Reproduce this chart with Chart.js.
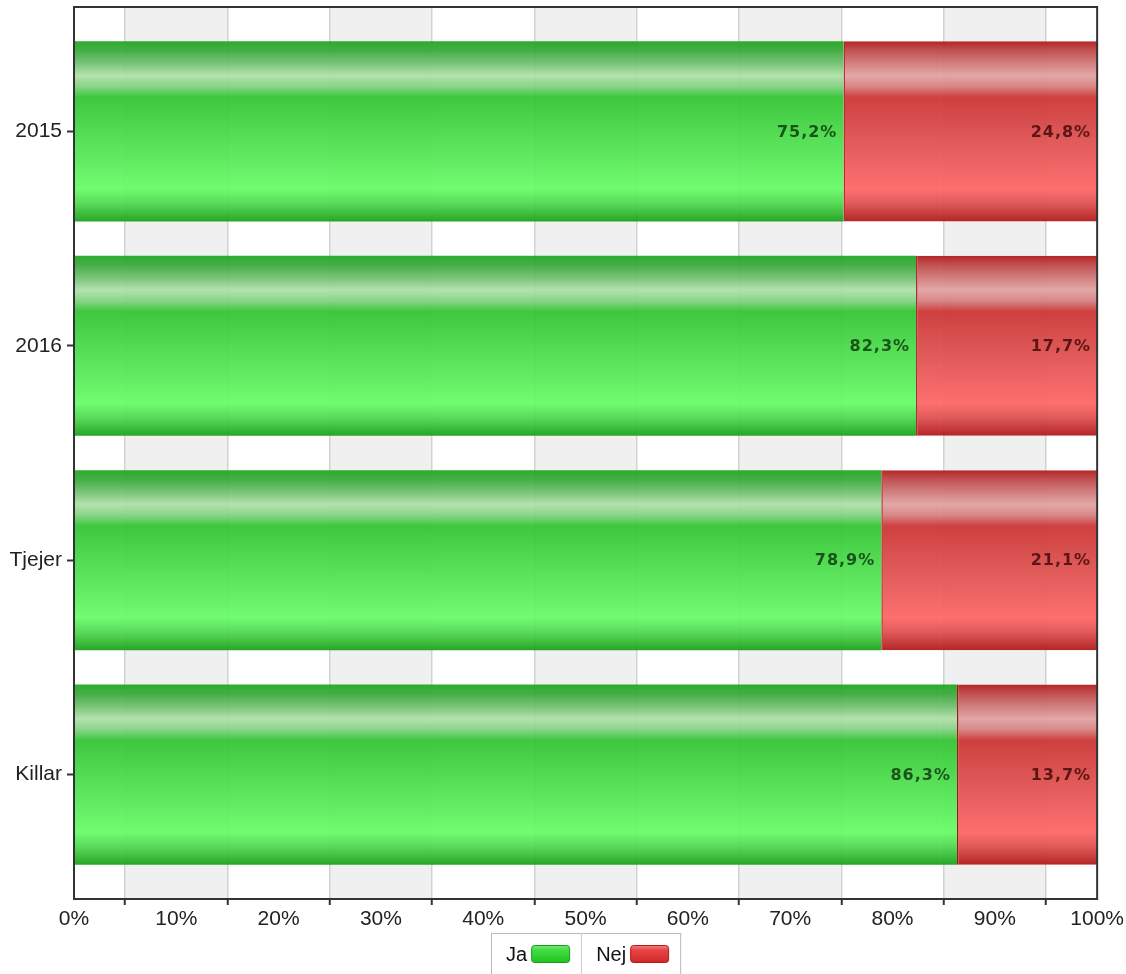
<!DOCTYPE html>
<html>
<head>
<meta charset="utf-8">
<script src="https://cdn.jsdelivr.net/npm/chart.js@4/dist/chart.umd.min.js"></script>
<style>
  html, body { margin: 0; padding: 0; background: #fff; }
  #wrap { width: 1126px; height: 974px; }
</style>
</head>
<body>
<div id="wrap"><canvas id="chart"></canvas></div>
<script>
// data
const categories = ['2015', '2016', 'Tjejer', 'Killar'];
const jaValues = [75.2, 82.3, 78.9, 86.3];
const nejValues = [24.8, 17.7, 21.1, 13.7];
const xTicks = [0, 10, 20, 30, 40, 50, 60, 70, 80, 90, 100];

const barPct = 0.84;

const greenStops = [
    [0, 'rgba(30,168,30,0.94)'],
    [0.05, 'rgba(58,168,58,0.94)'],
    [0.12, 'rgba(110,192,110,0.94)'],
    [0.19, 'rgba(176,224,170,0.94)'],
    [0.25, 'rgba(130,210,130,0.94)'],
    [0.31, 'rgba(51,196,51,0.94)'],
    [0.55, 'rgba(78,222,78,0.94)'],
    [0.82, 'rgba(104,252,104,0.94)'],
    [0.9, 'rgba(80,216,80,0.94)'],
    [1, 'rgba(26,160,26,0.94)']
];
const redStops = [
    [0, 'rgba(176,24,24,0.94)'],
    [0.05, 'rgba(190,70,70,0.94)'],
    [0.12, 'rgba(206,118,118,0.94)'],
    [0.19, 'rgba(226,162,162,0.94)'],
    [0.25, 'rgba(214,128,128,0.94)'],
    [0.31, 'rgba(204,52,52,0.94)'],
    [0.55, 'rgba(222,80,80,0.94)'],
    [0.82, 'rgba(254,102,102,0.94)'],
    [0.9, 'rgba(222,80,80,0.94)'],
    [1, 'rgba(176,24,24,0.94)']
];

function barGradient(stops) {
    return (ctx) => {
        const y = ctx.chart.scales.y;
        if (!y || ctx.dataIndex === undefined) return stops[5][1];
        const c = y.getPixelForValue(ctx.dataIndex);
        const h = Math.abs(y.getPixelForValue(1) - y.getPixelForValue(0)) * barPct;
        if (!isFinite(c) || !isFinite(h) || h <= 0) return stops[5][1];
        const g = ctx.chart.ctx.createLinearGradient(0, c - h / 2, 0, c + h / 2);
        stops.forEach(s => g.addColorStop(s[0], s[1]));
        return g;
    };
}

const bandsPlugin = {
    id: 'bands',
    beforeDraw(chart) {
        const { ctx, chartArea: a, scales: { x } } = chart;
        ctx.save();
        ctx.fillStyle = '#fff';
        ctx.fillRect(0, 0, chart.width, chart.height);
        ctx.fillStyle = '#f0f0f0';
        for (let v = 5; v < 100; v += 20) {
            const x1 = x.getPixelForValue(v);
            const x2 = x.getPixelForValue(v + 10);
            ctx.fillRect(x1, a.top, x2 - x1, a.bottom - a.top);
        }
        ctx.restore();
    }
};

const labelPlugin = {
    id: 'barLabels',
    afterDatasetsDraw(chart) {
        const { ctx } = chart;
        ctx.save();
        ctx.font = 'bold 16px "DejaVu Sans"';
        ctx.letterSpacing = '1px';
        ctx.textAlign = 'right';
        ctx.textBaseline = 'middle';
        chart.data.datasets.forEach((ds, di) => {
            ctx.fillStyle = di === 0 ? 'rgba(10,50,10,0.8)' : 'rgba(50,0,0,0.75)';
            chart.getDatasetMeta(di).data.forEach((bar, i) => {
                const txt = ds.data[i].x.toFixed(1).replace('.', ',') + '%';
                ctx.fillText(txt, bar.x - 6, bar.y + 1);
            });
        });
        ctx.restore();
    }
};

const framePlugin = {
    id: 'frame',
    afterDraw(chart) {
        const { ctx, chartArea: a } = chart;
        ctx.save();
        ctx.strokeStyle = '#333';
        ctx.lineWidth = 2;
        ctx.strokeRect(a.left, a.top, a.right - a.left, a.bottom - a.top);

        // legend: text first, swatch after
        const items = chart.data.datasets.map(ds => ({ label: ds.label, stops: ds.legendStops, edge: ds.legendEdge }));
        ctx.font = '20px "Liberation Sans", Arial';
        const padL = 15, padR = 12, gap = 4, sw = 38, sh = 17;
        const widths = items.map(it => padL + ctx.measureText(it.label).width + gap + sw + padR);
        const total = widths.reduce((s, w) => s + w, 0);
        let left = (a.left + a.right) / 2 - total / 2;
        const top = 933, bottom = chart.height + 2;
        ctx.lineWidth = 1;
        ctx.strokeStyle = '#bbb';
        ctx.strokeRect(Math.round(left) + 0.5, top + 0.5, total, bottom - top);
        ctx.textBaseline = 'middle';
        ctx.textAlign = 'left';
        items.forEach((it, i) => {
            if (i > 0) {
                ctx.strokeStyle = '#ccc';
                ctx.beginPath();
                ctx.moveTo(Math.round(left) + 0.5, top);
                ctx.lineTo(Math.round(left) + 0.5, bottom);
                ctx.stroke();
            }
            ctx.fillStyle = '#111';
            ctx.fillText(it.label, left + padL, 955);
            const sx = left + padL + ctx.measureText(it.label).width + gap;
            const sy = 945;
            const g = ctx.createLinearGradient(0, sy, 0, sy + sh);
            it.stops.forEach(s => g.addColorStop(s[0], s[1]));
            ctx.beginPath();
            ctx.roundRect(sx + 0.5, sy + 0.5, sw, sh, 3);
            ctx.fillStyle = g;
            ctx.fill();
            ctx.strokeStyle = it.edge;
            ctx.stroke();
            left += widths[i];
        });
        ctx.restore();
    }
};

const data = {
    datasets: [
        {
            label: 'Ja',
            data: jaValues.map((v, i) => ({ x: v, y: i })),
            backgroundColor: barGradient(greenStops),
            borderWidth: 0,
            legendStops: [[0, '#7ee87e'], [0.3, '#44dd44'], [1, '#22c422']],
            legendEdge: '#1a9a1a'
        },
        {
            label: 'Nej',
            data: nejValues.map((v, i) => ({ x: v, y: i })),
            backgroundColor: barGradient(redStops),
            borderColor: '#a81414',
            borderWidth: { left: 1.5, top: 0, right: 0, bottom: 0 },
            borderSkipped: false,
            legendStops: [[0, '#f08a8a'], [0.3, '#e84444'], [1, '#d02a2a']],
            legendEdge: '#b01a1a'
        }
    ]
};

const options = {
    indexAxis: 'y',
    responsive: true,
    maintainAspectRatio: false,
    animation: false,
    barPercentage: barPct,
    categoryPercentage: 1,
    layout: { padding: { top: 7, right: 27, bottom: 43, left: 0 } },
    plugins: {
        legend: { display: false },
        tooltip: { enabled: false }
    },
    scales: {
        x: {
            type: 'linear',
            stacked: true,
            min: 0,
            max: 100,
            afterBuildTicks: (scale) => { scale.ticks = xTicks.map(v => ({ value: v })); },
            afterFit: (scale) => { scale.height = 32; },
            ticks: {
                callback: (v) => v + '%',
                color: '#222',
                font: { family: '"Liberation Sans", Arial', size: 21 },
                padding: 2,
                maxRotation: 0,
                autoSkip: false
            },
            grid: {
                offset: true,
                color: '#d2d2d2',
                lineWidth: 1.5,
                tickColor: '#333',
                tickLength: 6,
                tickWidth: 2
            },
            border: { color: '#333', width: 2 }
        },
        y: {
            type: 'linear',
            stacked: true,
            reverse: true,
            offset: false,
            min: -0.58,
            max: 3.58,
            afterFit: (scale) => {
                scale.width = 74;
                scale.paddingTop = 0;
                scale.paddingBottom = 0;
            },
            ticks: {
                stepSize: 1,
                includeBounds: false,
                callback: (v) => categories[v] ?? '',
                color: '#222',
                font: { family: '"Liberation Sans", Arial', size: 21 },
                padding: 5
            },
            grid: {
                offset: false,
                drawOnChartArea: false,
                tickColor: '#333',
                tickLength: 7,
                tickWidth: 2
            },
            border: { color: '#333', width: 2 }
        }
    }
};

new Chart(document.getElementById('chart'), {
    type: 'bar',
    data: data,
    options: options,
    plugins: [bandsPlugin, labelPlugin, framePlugin]
});
</script>
</body>
</html>
